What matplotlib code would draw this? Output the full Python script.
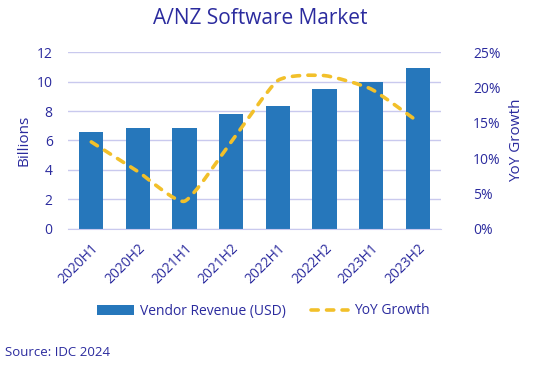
import matplotlib
matplotlib.use("Agg")
import matplotlib.pyplot as plt
from matplotlib.path import Path
from matplotlib.patches import PathPatch
from matplotlib.lines import Line2D
import numpy as np

categories = ["2020H1", "2020H2", "2021H1", "2021H2", "2022H1", "2022H2", "2023H1", "2023H2"]
revenue = [6.6, 6.85, 6.85, 7.8, 8.35, 9.5, 9.95, 10.95]
yoy_growth = [12.3, 8.1, 3.9, 12.3, 21.0, 21.7, 19.8, 15.2]
left_ticks = [0, 2, 4, 6, 8, 10, 12]
right_ticks = [0, 5, 10, 15, 20, 25]

TEXT = "#2b2b9e"
BAR = "#2677bb"
LINE = "#f2c02a"
GRID = "#c9c9ee"

plt.rcParams["font.family"] = ["Open Sans", "DejaVu Sans"]

fig = plt.figure(figsize=(5.42, 3.66), dpi=100)
ax = fig.add_axes([68 / 542, 1 - 228.7 / 366, (441 - 68) / 542, (228.7 - 52.3) / 366])
x = np.arange(len(categories))
bars = ax.bar(x, revenue, width=0.52, color=BAR, zorder=2, label="Vendor Revenue (USD)")
ax.set_xlim(-0.5, len(categories) - 0.5)
ax.set_ylim(0, 12)
ax.set_yticks(left_ticks)
ax.set_yticklabels([str(t) for t in left_ticks])
ax.yaxis.grid(True, color=GRID, linewidth=1.0, zorder=0)
for s in ["top", "right", "left"]:
    ax.spines[s].set_visible(False)
ax.spines["bottom"].set_color(GRID)
ax.tick_params(axis="both", length=0, colors=TEXT, labelsize=10)
ax.tick_params(axis="y", pad=11)
ax.set_xticks(x)
ax.set_xticklabels(categories, rotation=45, ha="right", rotation_mode="anchor", color=TEXT, fontsize=10)
ax.tick_params(axis="x", pad=9)
ax.set_ylabel("Billions", color=TEXT, fontsize=11, labelpad=4)

ax2 = ax.twinx()
ax2.set_ylim(0, 25)
ax2.set_yticks(right_ticks)
ax2.set_yticklabels([f"{t}%" for t in right_ticks])
for s in ["top", "right", "left", "bottom"]:
    ax2.spines[s].set_visible(False)
ax2.tick_params(axis="y", length=0, colors=TEXT, labelsize=10, pad=23)
ax2.set_ylabel("YoY Growth", color=TEXT, fontsize=11, labelpad=6)

# smoothed line (Bezier through the data points)
pts = np.column_stack([x, yoy_growth]).astype(float)
n = len(pts)
verts = [tuple(pts[0])]
codes = [Path.MOVETO]
k = 0.09
for i in range(n - 1):
    p0 = pts[i - 1] if i > 0 else pts[i]
    p1 = pts[i]
    p2 = pts[i + 1]
    p3 = pts[i + 2] if i + 2 < n else pts[i + 1]
    c1 = p1 + (p2 - p0) * k
    c2 = p2 - (p3 - p1) * k
    verts += [tuple(c1), tuple(c2), tuple(p2)]
    codes += [Path.CURVE4] * 3
dash = (0, (2.0, 2.3))
patch = PathPatch(Path(verts, codes), facecolor="none", edgecolor=LINE, linewidth=2.6,
                  linestyle=dash, capstyle="round", zorder=3)
ax2.add_patch(patch)

handles = [bars, Line2D([0], [0], color=LINE, linewidth=2.6, linestyle=dash, dash_capstyle="round")]
fig.legend(handles, ["Vendor Revenue (USD)", "YoY Growth"], loc="center", bbox_to_anchor=(263 / 542, 1 - 311 / 366),
           ncol=2, frameon=False, fontsize=10, labelcolor=TEXT, handlelength=2.7, columnspacing=1.8, handletextpad=0.4)

fig.text(260 / 542, 1 - 19 / 366, "A/NZ Software Market", ha="center", va="center", color=TEXT, fontsize=15)
fig.text(5 / 542, 1 - 353 / 366, "Source: IDC 2024", ha="left", va="center", color=TEXT, fontsize=9.5)

fig.savefig("out.png", dpi=100, facecolor="white")
